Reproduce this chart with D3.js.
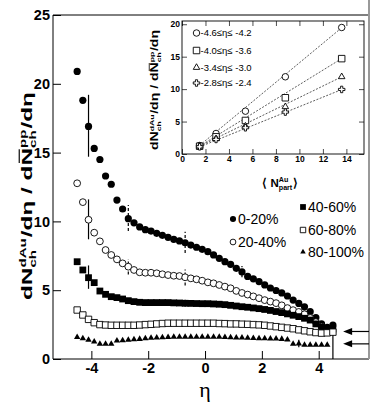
<!DOCTYPE html>
<meta charset="utf-8">
<style>
body { margin: 0; background: #fff; }
svg { font-family: "Liberation Sans", Arial, sans-serif; }
</style>
<body>
<script src="https://cdn.jsdelivr.net/npm/d3@7"></script>
<script>
// ---- main panel data: ratio dN/deta(dAu) / dN/deta(pp) vs eta ----
var eta = [-4.5,-4.3,-4.1,-3.9,-3.7,-3.5,-3.3,-3.1,-2.9,-2.7,
           -2.5,-2.3,-2.1,-1.9,-1.7,-1.5,-1.3,-1.1,-0.9,-0.7,
           -0.5,-0.3,-0.1,0.1,0.3,0.5,0.7,0.9,1.1,1.3,
           1.5,1.7,1.9,2.1,2.3,2.5,2.7,2.9,3.1,3.3,
           3.5,3.7,3.9,4.1,4.3,4.5];

var cent0_20 = [20.9,18.8,16.9,15.3,14.5,13.3,12.7,11.55,10.9,10.2,
                9.9,9.6,9.4,9.3,9.13,8.99,8.84,8.7,8.58,8.45,
                8.28,8.12,7.97,7.8,7.56,7.32,7.07,6.88,6.59,6.33,
                6.0,5.83,5.63,5.38,5.16,4.98,4.8,4.58,4.28,4.04,
                3.79,3.44,3.0,2.55,2.3,2.47];
var cent20_40 = [12.77,11.4,10.12,9.18,8.55,7.92,7.56,7.24,6.95,6.71,
                 6.47,6.3,6.27,6.27,6.23,6.16,6.1,6.05,6.03,5.94,
                 5.86,5.79,5.69,5.57,5.5,5.38,5.26,5.14,4.95,4.8,
                 4.68,4.55,4.42,4.28,4.17,4.06,3.9,3.7,3.55,3.42,
                 3.25,2.98,2.68,2.35];
var cent40_60 = [7.07,6.47,5.91,5.55,4.94,4.7,4.53,4.46,4.36,4.24,
                 4.17,4.12,4.1,4.1,4.1,4.1,4.1,4.08,4.07,4.05,
                 4.04,4.03,4.02,4.02,4.0,3.98,3.95,3.9,3.85,3.8,
                 3.76,3.71,3.66,3.6,3.53,3.45,3.37,3.28,3.18,3.08,
                 2.96,2.83,2.55,2.3,2.2,2.18];
var cent60_80 = [3.56,3.2,2.88,2.64,2.5,2.47,2.45,2.45,2.45,2.45,
                 2.45,2.47,2.5,2.52,2.55,2.58,2.6,2.6,2.6,2.6,
                 2.6,2.6,2.6,2.6,2.6,2.58,2.57,2.55,2.55,2.53,
                 2.52,2.5,2.48,2.45,2.4,2.35,2.3,2.25,2.2,2.12,
                 2.05,1.98,1.92,1.88,1.9,1.95];
var cent80_100 = [1.58,1.5,1.38,1.26,1.1,1.09,1.09,1.33,1.35,1.38,
                  1.42,1.45,1.5,1.53,1.55,1.57,1.58,1.6,1.6,1.6,
                  1.6,1.6,1.6,1.6,1.6,1.6,1.58,1.57,1.55,1.55,
                  1.53,1.52,1.5,1.5,1.48,1.47,1.45,1.4,1.1,1.12,
                  1.02,1.02,1.02,1.02,1.02];

var centLabels = ["0-20%","20-40%","40-60%","60-80%","80-100%"];
var centValues = [cent0_20, cent20_40, cent40_60, cent60_80, cent80_100];
var centMarkers = ["circleFilled","circleOpen","squareFilled","squareOpen","triangleFilled"];

// systematic error bars (series index, eta, low, high, dashed)
var errSeries = [0,0,0,0,0,1,1,1,2,2,4];
var errEta    = [-4.1,-2.7,-0.7,1.3,4.5,-4.1,-2.7,-0.7,-4.1,-0.7,3.3];
var errLow    = [14.7,9.3,7.7,5.95,0,8.7,6.15,5.35,5.1,3.8,0.85];
var errHigh   = [19.2,11.2,9.25,6.75,2.6,11.6,7.25,6.5,6.8,4.3,1.4];
var errDashed = [false,true,true,true,false,false,true,true,false,true,true];

// arrows on right side
var arrowLevels = [2.0, 1.1];

var xTicks = [-4,-2,0,2,4];
var yTicks = [0,5,10,15,20,25];

// ---- inset data: ratio vs <Npart Au> ----
var nPartAu = [1.5, 2.9, 5.4, 8.8, 13.6];
var ratioA = [1.31, 3.16, 6.6, 11.9, 19.5];   // -4.6 <= eta <= -4.2
var ratioB = [1.2, 2.65, 5.17, 8.67, 14.7];   // -4.0 <= eta <= -3.6
var ratioC = [1.2, 2.34, 4.29, 7.28, 11.9];   // -3.4 <= eta <= -3.0
var ratioD = [1.11, 2.24, 4.04, 6.46, 9.95];  // -2.8 <= eta <= -2.4
var insetLabels = ["-4.6\u2264\u03b7\u2264 -4.2","-4.0\u2264\u03b7\u2264 -3.6","-3.4\u2264\u03b7\u2264 -3.0","-2.8\u2264\u03b7\u2264 -2.4"];
var insetValues = [ratioA, ratioB, ratioC, ratioD];
var insetMarkers = ["circleOpen","squareOpen","triangleOpen","crossOpen"];
var fitSlope = [1.50, 1.116, 0.884, 0.73];
var fitIntercept = [-0.94, -0.47, -0.13, 0.0];

var insetXTicks = [0,2,4,6,8,10,12,14];
var insetYTicks = [0,5,10,15,20];

var W = 374, H = 407;
var svg = d3.select("body").append("svg").attr("width", W).attr("height", H);

var x = d3.scaleLinear().domain([-5.35, 5.77]).range([53, 369]);
var y = d3.scaleLinear().domain([0, 25]).range([359, 15]);

function markerPath(type, s) {
  if (type.indexOf("circle") == 0) return d3.symbol().type(d3.symbolCircle).size(Math.PI * s * s / 4)();
  if (type.indexOf("square") == 0) return d3.symbol().type(d3.symbolSquare).size(s * s)();
  if (type.indexOf("triangle") == 0) return d3.symbol().type(d3.symbolTriangle).size(Math.sqrt(3) / 4 * s * s)();
  return d3.symbol().type(d3.symbolCross).size(s * s * 5 / 9)();
}
function markerStyle(sel, type) {
  var open = type.indexOf("Open") > 0;
  sel.attr("fill", open ? "#fff" : "#000")
     .attr("stroke", "#000")
     .attr("stroke-width", open ? 0.9 : 0);
}
var markerSize = {circleFilled: 7.2, circleOpen: 6.8, squareFilled: 6.8, squareOpen: 6.4, triangleFilled: 6.4};

// rich text: parts laid out left to right, stacked sup/sub
function richText(g, parts, size) {
  var cx = 0, small = size * 0.62;
  parts.forEach(function(p) {
    if (p.sup !== undefined) {
      var a = g.append("text").attr("x", cx).attr("y", -size * 0.42).style("font-size", small + "px").text(p.sup);
      var b = g.append("text").attr("x", cx).attr("y", size * 0.3).style("font-size", small + "px").text(p.sub);
      cx += Math.max(a.node().getComputedTextLength(), b.node().getComputedTextLength()) + size * 0.04;
    } else {
      var t = g.append("text").attr("x", cx).attr("y", 0).style("font-size", size + "px").text(p.t);
      var w = t.node().getComputedTextLength();
      if (p.bar) {
        g.append("line").attr("x1", cx + size * 0.1).attr("x2", cx + w - size * 0.05)
          .attr("y1", -size * 0.88).attr("y2", -size * 0.88)
          .attr("stroke", "#000").attr("stroke-width", size * 0.08);
      }
      cx += w;
    }
  });
  return cx;
}

// ---- main frame and axes ----
svg.append("path")
  .attr("d", "M" + x.range()[1] + "," + y.range()[1] + "H" + x.range()[0] + "V" + y.range()[0] + "H" + x.range()[1])
  .attr("fill", "none").attr("stroke", "#000").attr("stroke-width", 1);
svg.append("line")
  .attr("x1", x.range()[1]).attr("x2", x.range()[1]).attr("y1", 0).attr("y2", y.range()[0])
  .attr("stroke", "#999").attr("stroke-width", 2);

var gx = svg.append("g").attr("transform", "translate(0," + y.range()[0] + ")");
gx.call(d3.axisBottom(x).tickValues(d3.range(-5, 5.8, 0.5)).tickSize(-4).tickFormat(""));
gx.call(d3.axisBottom(x).tickValues(xTicks).tickSize(-8).tickPadding(4).tickFormat(function(d) { return String(d); }));
var gy = svg.append("g").attr("transform", "translate(" + x.range()[0] + ",0)");
gy.call(d3.axisLeft(y).tickValues(d3.range(0, 26, 1)).tickSize(-4).tickFormat(""));
gy.call(d3.axisLeft(y).tickValues(yTicks).tickSize(-8).tickPadding(3).tickFormat(function(d) { return String(d); }));
svg.selectAll(".domain").remove();
svg.selectAll(".tick line").attr("stroke", "#000");
svg.selectAll(".tick text").style("font-size", "14.5px").style("font-weight", "bold")
  .style("font-family", "'Liberation Sans', Arial, sans-serif").attr("fill", "#000");

// axis titles
svg.append("text").attr("x", x(0)).attr("y", 397).attr("text-anchor", "middle")
  .style("font-family", "'Liberation Serif', serif").style("font-size", "22px").text("\u03b7");

var yl = svg.append("g").attr("transform", "translate(32,196) rotate(-90)");
var ylIn = yl.append("g").style("font-weight", "bold");
var ylW = richText(ylIn, [{t: "dN"}, {sup: "dAu", sub: "ch"}, {t: "/d\u03b7 / d"}, {t: "N", bar: true},
                          {sup: "pp", sub: "ch"}, {t: "/d\u03b7"}], 14.5);
ylIn.attr("transform", "scale(" + (208 / ylW) + ",1) translate(" + (-ylW / 2) + ",0)");

// ---- error bars then markers ----
errEta.forEach(function(e, i) {
  svg.append("line")
    .attr("x1", x(e)).attr("x2", x(e))
    .attr("y1", y(errLow[i])).attr("y2", y(errHigh[i]))
    .attr("stroke", "#000").attr("stroke-width", 1.2)
    .attr("stroke-dasharray", errDashed[i] ? "3,2" : null);
});

centValues.forEach(function(vals, k) {
  var type = centMarkers[k];
  var pts = vals.map(function(v, i) { return {eta: eta[i], v: v}; });
  svg.append("g").selectAll("path").data(pts).enter().append("path")
    .attr("transform", function(d) { return "translate(" + x(d.eta) + "," + y(d.v) + ")"; })
    .attr("d", markerPath(type, markerSize[type]))
    .call(markerStyle, type);
});

// arrows on right edge
arrowLevels.forEach(function(a) {
  var tip = x(4.86), yy = y(a);
  svg.append("line").attr("x1", tip + 6).attr("x2", x.range()[1]).attr("y1", yy).attr("y2", yy)
    .attr("stroke", "#000").attr("stroke-width", 1.2);
  svg.append("path").attr("d", "M" + tip + "," + yy + "l9,-3.5v7z").attr("fill", "#000");
});

// main legend
var legX = [233, 233, 303, 303, 303];
var legY = [219, 242, 207, 230, 252];
centLabels.forEach(function(lab, k) {
  var type = centMarkers[k];
  svg.append("path").attr("transform", "translate(" + legX[k] + "," + legY[k] + ")")
    .attr("d", markerPath(type, markerSize[type] * 0.85)).call(markerStyle, type);
  svg.append("text").attr("x", legX[k] + 5).attr("y", legY[k] + 4.8)
    .style("font-size", "14px").text(lab);
});

// ---- inset ----
var xi = d3.scaleLinear().domain([0, 15.5]).range([182, 364]);
var yi = d3.scaleLinear().domain([0, 20.5]).range([154, 21]);
svg.append("rect").attr("x", xi.range()[0]).attr("y", yi.range()[1])
  .attr("width", xi.range()[1] - xi.range()[0]).attr("height", yi.range()[0] - yi.range()[1])
  .attr("fill", "#fff").attr("stroke", "#000").attr("stroke-width", 0.9);

var inset = svg.append("g").attr("class", "inset");
function insetAxis(axisFn, scale, tr, major, minorStep, labels) {
  var g = inset.append("g").attr("transform", tr);
  var dom = scale.domain();
  g.call(axisFn(scale).tickValues(d3.range(dom[0], dom[1] + 0.01, minorStep)).tickSize(-2.5).tickFormat(""));
  g.call(axisFn(scale).tickValues(major).tickSize(-5).tickPadding(2)
    .tickFormat(labels ? function(d) { return String(d); } : ""));
  g.selectAll(".domain").remove();
}
insetAxis(d3.axisBottom, xi, "translate(0," + yi.range()[0] + ")", insetXTicks, 0.5, true);
insetAxis(d3.axisTop, xi, "translate(0," + yi.range()[1] + ")", insetXTicks, 0.5, false);
insetAxis(d3.axisLeft, yi, "translate(" + xi.range()[0] + ",0)", insetYTicks, 1, true);
insetAxis(d3.axisRight, yi, "translate(" + xi.range()[1] + ",0)", insetYTicks, 1, false);
inset.selectAll(".tick line").attr("stroke", "#000").attr("stroke-width", 0.7);
inset.selectAll(".tick text").style("font-size", "8.5px").style("font-weight", "bold")
  .style("font-family", "'Liberation Sans', Arial, sans-serif").attr("fill", "#000");

// fits
insetValues.forEach(function(vals, k) {
  var x0 = nPartAu[0], x1 = nPartAu[nPartAu.length - 1];
  inset.append("line")
    .attr("x1", xi(x0)).attr("y1", yi(fitSlope[k] * x0 + fitIntercept[k]))
    .attr("x2", xi(x1)).attr("y2", yi(fitSlope[k] * x1 + fitIntercept[k]))
    .attr("stroke", "#333").attr("stroke-width", 0.8).attr("stroke-dasharray", "2,1.5");
});
insetValues.forEach(function(vals, k) {
  var type = insetMarkers[k];
  inset.append("g").selectAll("path").data(vals).enter().append("path")
    .attr("transform", function(d, i) { return "translate(" + xi(nPartAu[i]) + "," + yi(d) + ")"; })
    .attr("d", markerPath(type, 6.5)).call(markerStyle, type);
});

// inset legend
var iLegY = [33, 50.5, 67.5, 83];
insetLabels.forEach(function(lab, k) {
  var type = insetMarkers[k];
  inset.append("path").attr("transform", "translate(196.5," + iLegY[k] + ")")
    .attr("d", markerPath(type, 6.5)).call(markerStyle, type);
  inset.append("text").attr("x", 200.5).attr("y", iLegY[k] + 3.3)
    .style("font-size", "9.5px").text(lab);
});

// inset axis titles
var ixl = inset.append("g").attr("transform", "translate(280,187)");
var ixlIn = ixl.append("g").style("font-weight", "bold");
var ixlW = richText(ixlIn, [{t: "\u27e8 N"}, {sup: "Au", sub: "part"}, {t: " \u27e9"}], 11.5);
ixlIn.attr("transform", "translate(" + (-ixlW / 2) + ",0)");

var iyl = inset.append("g").attr("transform", "translate(158,90) rotate(-90)");
var iylIn = iyl.append("g").style("font-weight", "bold");
var iylW = richText(iylIn, [{t: "dN"}, {sup: "dAu", sub: "ch"}, {t: "/d\u03b7 / d"}, {t: "N", bar: true},
                            {sup: "pp", sub: "ch"}, {t: "/d\u03b7"}], 10);
iylIn.attr("transform", "scale(" + (120 / iylW) + ",1) translate(" + (-iylW / 2) + ",0)");
</script>
